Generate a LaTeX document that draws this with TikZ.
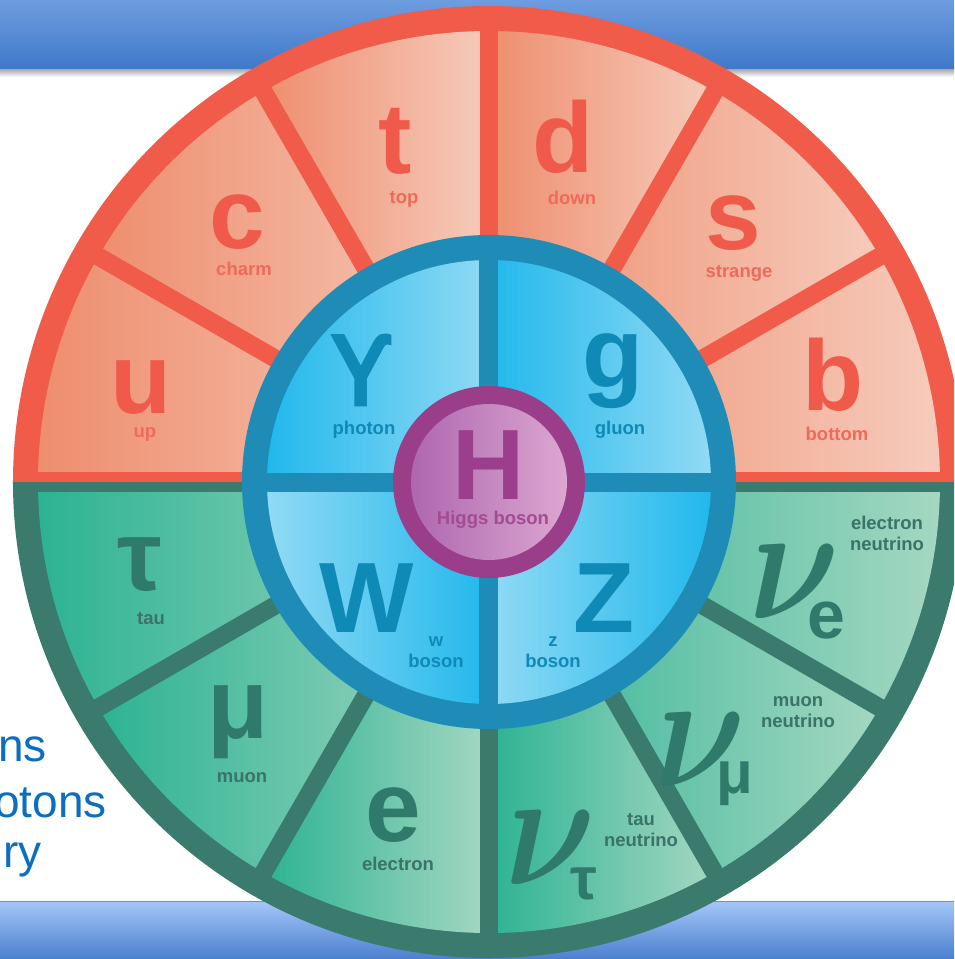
\documentclass[tikz,border=0pt]{standalone}
\usepackage{graphicx}
\usepackage{fontspec}
\setmainfont{Liberation Sans}
\newfontfamily\notosans{Noto Sans}[FakeBold=4]
\definecolor{ringRed}{HTML}{F15B4A}
\definecolor{segRedL}{HTML}{EE8E6E}
\definecolor{segRedR}{HTML}{F6CBBB}
\definecolor{letRed}{HTML}{F05A4B}
\definecolor{labRed}{HTML}{EE6B5B}
\definecolor{ringGreen}{HTML}{3A7B6D}
\definecolor{segGreenL}{HTML}{2CB392}
\definecolor{segGreenR}{HTML}{A5D7C2}
\definecolor{letGreen}{HTML}{2F7A6A}
\definecolor{labGreen}{HTML}{3A7468}
\definecolor{ringBlue}{HTML}{1E8CB6}
\definecolor{blueBright}{HTML}{22B8EC}
\definecolor{blueLight}{HTML}{90DAF4}
\definecolor{letBlue}{HTML}{0F8AB6}
\definecolor{ringPurple}{HTML}{9B3E8A}
\definecolor{purpleL}{HTML}{AE67AF}
\definecolor{purpleR}{HTML}{DCA7D0}
\definecolor{letPurple}{HTML}{9B3E8C}
\definecolor{labPurple}{HTML}{A24C92}
\definecolor{barTop}{HTML}{6E9DDF}
\definecolor{barBot}{HTML}{3F78C9}
\definecolor{bbarTop}{HTML}{A5C7F8}
\definecolor{bbarBot}{HTML}{4B7FCF}
\definecolor{slideText}{HTML}{0B6EC0}
\newcommand{\nusym}{\scalebox{14}[16.5]{\boldmath$\nu$}}
\tikzset{
  big/.style={inner sep=0pt, font=\fontsize{100}{100}\selectfont\bfseries},
  lab/.style={inner sep=0pt, align=center, font=\fontsize{18.5}{21}\selectfont\bfseries},
  nulab/.style={inner sep=0pt, anchor=base west, text=letGreen, font=\bfseries},
  slide/.style={inner sep=0pt, anchor=base east, text=slideText, font=\fontsize{46}{46}\selectfont}
}
\begin{document}
\begin{tikzpicture}[x=1pt,y=1pt]
\useasboundingbox (-489,-477) rectangle (465,482);
\clip (-489,-477) rectangle (465,482);
\fill[white] (-489,-477) rectangle (465,482);
% slide bars
\shade[top color=barTop, bottom color=barBot] (-489,412) rectangle (465,482);
\shade[top color=black!30, bottom color=white] (-489,405) rectangle (465,412);
\shade[top color=bbarTop, bottom color=bbarBot] (-489,-477) rectangle (465,-419);
\draw[color=barBot!80, line width=1.2] (-489,-419.5) -- (465,-419.5);
% slide text
\node[slide] (t1) at (-442,-279) {ns};
\node[slide] (t2) at (-382,-335) {otons};
\node[slide] (t3) at (-447,-385) {ry};
% outer wheel
\fill[ringRed] (0,0) -- (476,0) arc[start angle=0,end angle=180,radius=476] -- cycle;
\fill[ringGreen] (0,0) -- (-476,0) arc[start angle=180,end angle=360,radius=476] -- cycle;
\foreach \i in {0,...,5} {
  \pgfmathsetmacro\a{30*\i}
  \shade[left color=segRedL, right color=segRedR] (0,0) -- (\a:451) arc[start angle=\a, end angle=\a+30, radius=451] -- cycle;
}
\foreach \i in {6,...,11} {
  \pgfmathsetmacro\a{30*\i}
  \shade[left color=segGreenL, right color=segGreenR] (0,0) -- (\a:451) arc[start angle=\a, end angle=\a+30, radius=451] -- cycle;
}
\foreach \a in {30,60,90,120,150} \draw[ringRed, line width=18] (0,0) -- (\a:455);
\foreach \a in {210,240,270,300,330} \draw[ringGreen, line width=18] (0,0) -- (\a:455);
\fill[ringRed] (-460,0) rectangle (460,10.5);
\fill[ringGreen] (-460,-10) rectangle (460,0);
% bosons
\fill[ringBlue] (0,0) circle (247);
\shade[left color=blueBright, right color=blueLight] (0,0) -- (90:222) arc[start angle=90,end angle=180,radius=222] -- cycle;
\shade[left color=blueBright, right color=blueLight] (0,0) -- (0:222) arc[start angle=0,end angle=90,radius=222] -- cycle;
\shade[left color=blueLight, right color=blueBright] (0,0) -- (180:222) arc[start angle=180,end angle=270,radius=222] -- cycle;
\shade[left color=blueLight, right color=blueBright] (0,0) -- (270:222) arc[start angle=270,end angle=360,radius=222] -- cycle;
\draw[ringBlue, line width=19] (-230,0) -- (230,0);
\draw[ringBlue, line width=19] (0,-230) -- (0,230);
% Higgs
\fill[ringPurple] (0,0) circle (96);
\shade[left color=purpleL, right color=purpleR] (0,0) circle (78);
% quarks
\node[big, text=letRed] (u) at (-348,94) {u};
\node[lab, text=labRed] (lu) at (-344,48) {up};
\node[big, text=letRed] (c) at (-252,260) {c};
\node[lab, text=labRed] (lc) at (-245,213) {charm};
\node[big, text=letRed] (t) at (-94,341) {t};
\node[lab, text=labRed] (lt) at (-85,283) {top};
\node[big, text=letRed] (d) at (74,345) {d};
\node[lab, text=labRed] (ld) at (83,284) {down};
\node[big, text=letRed] (s) at (244,259) {s};
\node[lab, text=labRed] (ls) at (250,209) {strange};
\node[big, text=letRed] (b) at (344,107) {b};
\node[lab, text=labRed] (lb) at (348,48) {bottom};
% bosons
\node[inner sep=0pt, text=letBlue, font=\fontsize{96}{96}\selectfont\notosans] (gam) at (-127,112) {ϒ};
\node[lab, text=letBlue] (lgam) at (-125,52) {photon};
\node[big, text=letBlue] (g) at (124,111) {g};
\node[lab, text=letBlue] (lg) at (131,52) {gluon};
\node[big, text=letBlue] (W) at (-122,-116) {W};
\node[lab, text=letBlue] (lW) at (-53,-170) {w\\boson};
\node[big, text=letBlue] (Z) at (115,-116) {Z};
\node[lab, text=letBlue] (lZ) at (64,-170) {z\\boson};
\node[big, text=letPurple] (H) at (0,17) {H};
\node[lab, text=labPurple] (lH) at (4,-38) {Higgs boson};
% leptons
\node[big, text=letGreen] (tau) at (-349,-83) {τ};
\node[lab, text=labGreen] (ltau) at (-338,-137) {tau};
\node[big, text=letGreen] (mu) at (-251,-240) {μ};
\node[lab, text=labGreen] (lmu) at (-247,-296) {muon};
\node[big, text=letGreen] (e) at (-96,-333) {e};
\node[lab, text=labGreen] (le) at (-91,-382) {electron};
% neutrinos
\node[nulab] (nue) at (260,-137) {\rlap{\nusym}\hspace{58pt}\raisebox{-19pt}{\fontsize{68}{68}\selectfont e}};
\node[lab, text=labGreen] (lnue) at (398,-51) {electron\\neutrino};
\node[nulab] (numu) at (166,-304) {\rlap{\nusym}\hspace{61pt}\raisebox{-7pt}{\fontsize{60}{60}\selectfont μ}};
\node[lab, text=labGreen] (lnumu) at (309,-230) {muon\\neutrino};
\node[nulab] (nutau) at (16,-402) {\rlap{\nusym}\hspace{65pt}\raisebox{-15pt}{\fontsize{60}{60}\selectfont τ}};
\node[lab, text=labGreen] (lnutau) at (152,-348) {tau\\neutrino};
\end{tikzpicture}
\end{document}
